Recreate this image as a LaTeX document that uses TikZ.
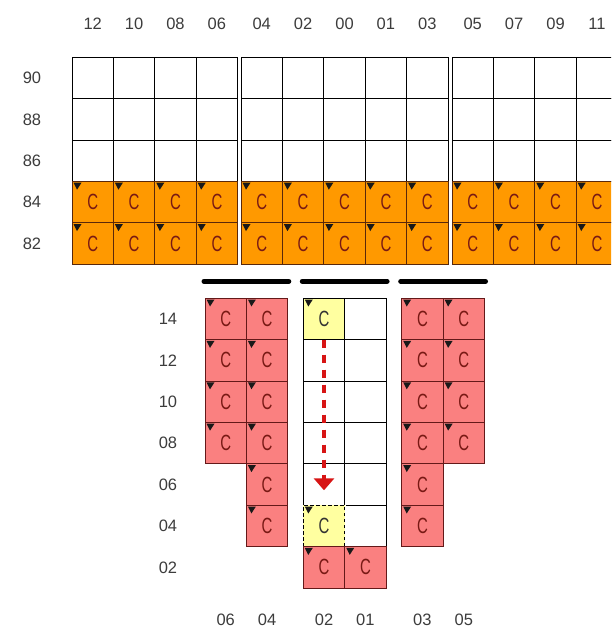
\documentclass[tikz,border=0pt]{standalone}
\usepackage{fontspec}
\setmainfont{Liberation Sans}
\usetikzlibrary{arrows.meta}

\definecolor{corange}{RGB}{255,153,0}
\definecolor{cpink}{RGB}{250,128,128}
\definecolor{cyellow}{RGB}{255,255,160}
\definecolor{obord}{RGB}{90,40,10}
\definecolor{pbord}{RGB}{100,25,25}
\definecolor{ctext}{RGB}{120,25,20}
\definecolor{labgray}{RGB}{60,60,60}
\definecolor{cred}{RGB}{215,20,20}

\newcommand{\cletter}{\scalebox{0.68}[1]{C}}
\newcommand{\cornermark}[1]{\fill[black!90] ([shift={(1.5,1.2)}]#1.north west) -- ++(8,0) -- ++(-4.5,7) -- cycle;}

\begin{document}
\begin{tikzpicture}[
    x=1pt, y=-1pt,
    cell/.style={draw=black, fill=white, line width=1pt, minimum width=41.4pt, minimum height=41.4pt,
        inner sep=0pt, outer sep=0pt, text=ctext, font=\fontsize{22}{25}\selectfont},
    ocell/.style={cell, fill=corange, draw=obord},
    pcell/.style={cell, fill=cpink, draw=pbord},
    ycell/.style={cell, fill=cyellow, text=black!80},
    dashcell/.style={ycell, dash pattern=on 3.5pt off 2.5pt, line width=1.2pt,
        preaction={draw=white, solid, line width=1.6pt}},
    collabel/.style={text=labgray, font=\fontsize{16.5}{19}\selectfont, inner sep=1pt},
    rowlabel/.style={collabel},
    bar/.style={line width=5pt, line cap=round},
    dropline/.style={draw=cred, line width=4pt, dash pattern=on 8pt off 7pt,
        -{Triangle[width=20pt,length=12pt]}, shorten >=15pt}
]
    \useasboundingbox (0,0) rectangle (611,629);
    \clip (0,0) rectangle (611,629);

    % Upper grid: column labels, white rows, orange rows
    \foreach \cn/\cx in {12/92.7,10/134.1,08/175.5,06/216.9,
                         04/261.7,02/303.1,00/344.5,01/385.9,03/427.3,
                         05/472.7,07/514.1,09/555.5,11/596.9} {
        \node[collabel] (top\cn) at (\cx,24) {\cn};
        \foreach \rw/\cy in {90/78,88/119.4,86/160.8}
            \node[cell] (t\cn r\rw) at (\cx,\cy) {};
        \foreach \rw/\cy in {84/202.2,82/243.6} {
            \node[ocell] (t\cn r\rw) at (\cx,\cy) {\cletter};
            \cornermark{t\cn r\rw}
        }
    }

    % Upper grid: row labels
    \foreach \rw/\cy in {90/78,88/119.4,86/160.8,84/202.2,82/243.6}
        \node[rowlabel] (left\rw) at (32,\cy) {\rw};

    % Lower grid: left block
    \foreach \rw/\cy in {14/319,12/360.4,10/401.8,08/443.2} {
        \node[pcell] (a06r\rw) at (225.7,\cy) {\cletter};
        \cornermark{a06r\rw}
    }
    \foreach \rw/\cy in {14/319,12/360.4,10/401.8,08/443.2,06/484.6,04/526} {
        \node[pcell] (a04r\rw) at (267.1,\cy) {\cletter};
        \cornermark{a04r\rw}
    }

    % Lower grid: middle block
    \foreach \rw/\cy in {12/360.4,10/401.8,08/443.2,06/484.6}
        \node[cell] (b02r\rw) at (324,\cy) {};
    \foreach \rw/\cy in {14/319,12/360.4,10/401.8,08/443.2,06/484.6,04/526}
        \node[cell] (b01r\rw) at (365.4,\cy) {};
    \node[ycell] (b02r14) at (324,319) {\cletter};
    \cornermark{b02r14}
    \node[dashcell] (b02r04) at (324,526) {\cletter};
    \cornermark{b02r04}
    \node[pcell] (b02r02) at (324,567.4) {\cletter};
    \cornermark{b02r02}
    \node[pcell] (b01r02) at (365.4,567.4) {\cletter};
    \cornermark{b01r02}

    % Lower grid: right block
    \foreach \rw/\cy in {14/319,12/360.4,10/401.8,08/443.2,06/484.6,04/526} {
        \node[pcell] (c03r\rw) at (422.4,\cy) {\cletter};
        \cornermark{c03r\rw}
    }
    \foreach \rw/\cy in {14/319,12/360.4,10/401.8,08/443.2} {
        \node[pcell] (c05r\rw) at (463.8,\cy) {\cletter};
        \cornermark{c05r\rw}
    }

    % Bars over the lower blocks
    \draw[bar] ([shift={(-1,-17)}]a06r14.north west) -- ([shift={(1,-17)}]a04r14.north east);
    \draw[bar] ([shift={(-1,-17)}]b02r14.north west) -- ([shift={(1,-17)}]b01r14.north east);
    \draw[bar] ([shift={(-1,-17)}]c03r14.north west) -- ([shift={(1,-17)}]c05r14.north east);

    % Lower grid: labels
    \foreach \rw/\cy in {14/319,12/360.4,10/401.8,08/443.2,06/484.6,04/526,02/567.4}
        \node[rowlabel] (low\rw) at (168,\cy) {\rw};
    \foreach \cn/\cx in {06/225.7,04/267.1,02/324,01/365.4,03/422.4,05/463.8}
        \node[collabel] (bot\cn) at (\cx,620) {\cn};

    % Move arrow
    \draw[dropline] (b02r14.south) -- (b02r04.north);

\end{tikzpicture}
\end{document}
